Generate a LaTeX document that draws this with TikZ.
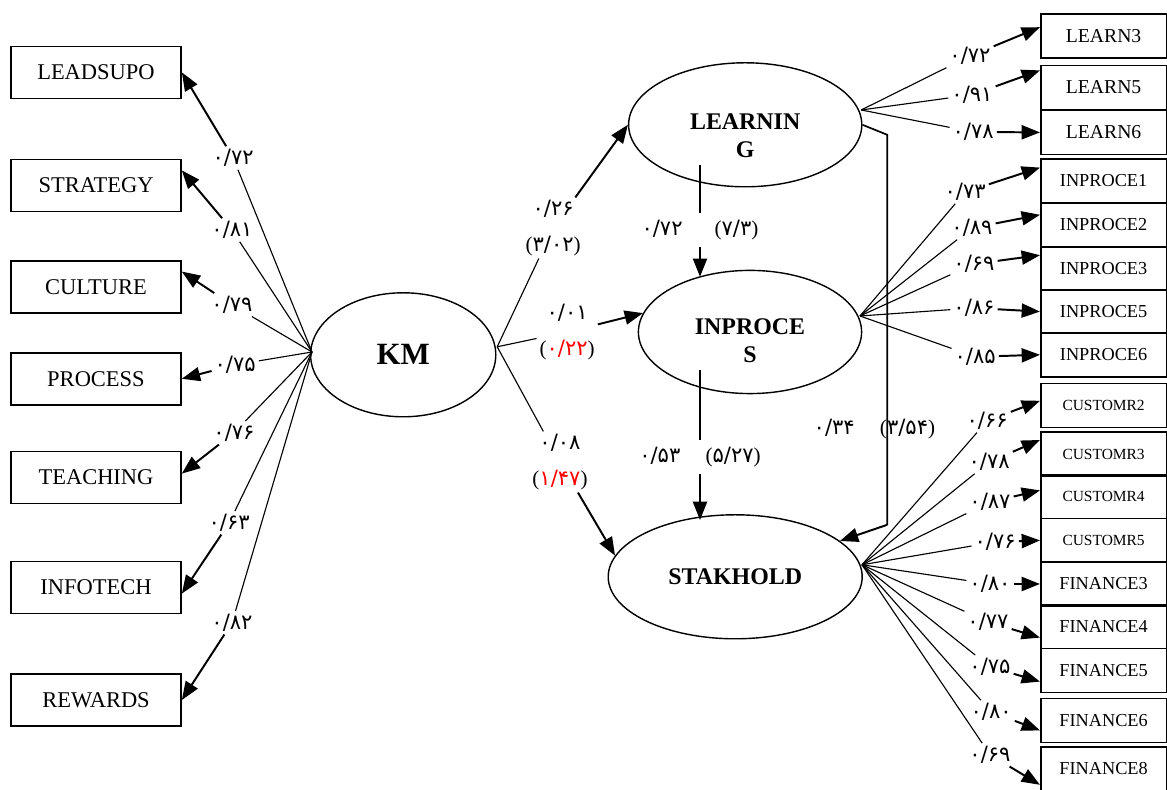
\documentclass[tikz,border=0pt]{standalone}
\usepackage{fontspec}
\setmainfont{Liberation Serif}
\newfontfamily\fanum{DejaVu Sans}
\newcommand{\pv}[1]{{\fanum #1}}
\usetikzlibrary{shapes.geometric,arrows.meta}

\begin{document}
\begin{tikzpicture}
\tikzstyle{factor}=[draw,ellipse,line width=1pt,inner sep=0pt,align=center,font=\bfseries\fontsize{17}{20}\selectfont]
\tikzstyle{leftbox}=[draw,line width=1.2pt,minimum width=4.25cm,minimum height=1.3cm,font=\fontsize{16}{18}\selectfont]
\tikzstyle{rightbox}=[draw,line width=1.2pt,minimum width=3.14cm,minimum height=1.1cm,font=\fontsize{13}{15}\selectfont]
\tikzstyle{coef}=[inner sep=2pt,align=center,font=\fontsize{15}{25}\selectfont]
\tikzstyle{link}=[line width=0.8pt]
\tikzstyle{load}=[line width=1.4pt,-{Triangle[length=13pt,width=10pt]}]
\useasboundingbox (0,0) rectangle (29.175,19.75);
\node [leftbox] (leadsupo) at (2.40,17.94) {LEADSUPO};
\node [leftbox] (strategy) at (2.40,15.11) {STRATEGY};
\node [leftbox] (culture) at (2.40,12.58) {CULTURE};
\node [leftbox] (process) at (2.40,10.28) {PROCESS};
\node [leftbox] (teaching) at (2.40,7.81) {TEACHING};
\node [leftbox] (infotech) at (2.40,5.06) {INFOTECH};
\node [leftbox] (rewards) at (2.40,2.25) {REWARDS};
\node [factor,minimum width=4.63cm,minimum height=3.10cm,font=\bfseries\fontsize{22}{24}\selectfont] (km) at (10.08,10.88) {KM};
\node [factor,minimum width=5.83cm,minimum height=3.10cm] (learning) at (18.63,16.63) {\rule{0pt}{0.95cm}LEARNIN\\G};
\node [factor,minimum width=5.58cm,minimum height=3.08cm] (inproces) at (18.75,11.45) {\rule{0pt}{0.85cm}INPROCE\\S};
\node [factor,minimum width=6.35cm,minimum height=3.10cm] (stakhold) at (18.38,5.33) {STAKHOLD};
\node [rightbox,font=\fontsize{14}{16}\selectfont] (learn3) at (27.59,18.85) {LEARN3};
\node [rightbox,font=\fontsize{14}{16}\selectfont] (learn5) at (27.59,17.56) {LEARN5};
\node [rightbox,font=\fontsize{14}{16}\selectfont] (learn6) at (27.59,16.44) {LEARN6};
\node [rightbox] (inproce1) at (27.59,15.23) {INPROCE1};
\node [rightbox] (inproce2) at (27.59,14.13) {INPROCE2};
\node [rightbox] (inproce3) at (27.59,13.04) {INPROCE3};
\node [rightbox] (inproce5) at (27.59,11.96) {INPROCE5};
\node [rightbox] (inproce6) at (27.59,10.88) {INPROCE6};
\node [rightbox,font=\fontsize{11}{13}\selectfont] (customr2) at (27.59,9.61) {CUSTOMR2};
\node [rightbox,font=\fontsize{11}{13}\selectfont] (customr3) at (27.59,8.40) {CUSTOMR3};
\node [rightbox,font=\fontsize{11}{13}\selectfont] (customr4) at (27.59,7.34) {CUSTOMR4};
\node [rightbox,font=\fontsize{11}{13}\selectfont] (customr5) at (27.59,6.24) {CUSTOMR5};
\node [rightbox] (finance3) at (27.59,5.15) {FINANCE3};
\node [rightbox] (finance4) at (27.59,4.09) {FINANCE4};
\node [rightbox] (finance5) at (27.59,2.99) {FINANCE5};
\node [rightbox] (finance6) at (27.59,1.74) {FINANCE6};
\node [rightbox] (finance8) at (27.59,0.53) {FINANCE8};
\coordinate (kmw) at (7.80,10.95);
\coordinate (kme) at (12.43,11.08);
\coordinate (lrne) at (21.53,17.00);
\coordinate (inpe) at (21.50,11.85);
\coordinate (stke) at (21.55,5.63);
\coordinate (lrnb) at (17.50,15.63);
\coordinate (inpt) at (17.50,12.83);
\coordinate (inpb) at (17.50,10.50);
\coordinate (stkt) at (17.50,6.75);
\coordinate (bendt) at (22.18,16.38);
\coordinate (bendb) at (22.18,6.63);
\node [coef] (c-leadsupo) at (5.83,15.80) {\pv{۰/۷۲}};
\node [coef] (c-strategy) at (5.80,14.00) {\pv{۰/۸۱}};
\node [coef] (c-culture) at (5.80,12.13) {\pv{۰/۷۹}};
\node [coef] (c-process) at (5.88,10.63) {\pv{۰/۷۵}};
\node [coef] (c-teaching) at (5.85,8.93) {\pv{۰/۷۶}};
\node [coef] (c-infotech) at (5.73,6.68) {\pv{۰/۶۳}};
\node [coef] (c-rewards) at (5.80,4.18) {\pv{۰/۸۲}};
\node [coef] (c-learning) at (13.83,14.05) {\pv{۰/۲۶}\\(\pv{۳/۰۲})};
\node [coef] (c-inproces) at (14.18,11.45) {\pv{۰/۰۱}\\(\textcolor{red}{\pv{۰/۲۲}})};
\node [coef] (c-stakhold) at (14.00,8.20) {\pv{۰/۰۸}\\(\textcolor{red}{\pv{۱/۴۷}})};
\node [coef,inner ysep=5pt] (c-lrn-inp) at (17.50,14.00) {\pv{۰/۷۲}\hspace{0.8cm}(\pv{۷/۳})};
\node [coef,inner ysep=5pt] (c-inp-stk) at (17.50,8.33) {\pv{۰/۵۳}\hspace{0.63cm}(\pv{۵/۲۷})};
\node [coef] (c-lrn-stk) at (21.86,9.03) {\pv{۰/۳۴}\hspace{0.63cm}(\pv{۳/۵۴})};
\node [coef] (c-learn3) at (24.25,18.35) {\pv{۰/۷۲}};
\node [coef] (c-learn5) at (24.30,17.38) {\pv{۰/۹۱}};
\node [coef] (c-learn6) at (24.33,16.45) {\pv{۰/۷۸}};
\node [coef] (c-inproce1) at (24.13,14.95) {\pv{۰/۷۳}};
\node [coef] (c-inproce2) at (24.30,14.05) {\pv{۰/۸۹}};
\node [coef] (c-inproce3) at (24.35,13.15) {\pv{۰/۶۹}};
\node [coef] (c-inproce5) at (24.35,12.05) {\pv{۰/۸۶}};
\node [coef] (c-inproce6) at (24.38,10.83) {\pv{۰/۸۵}};
\node [coef] (c-customr2) at (24.68,9.23) {\pv{۰/۶۶}};
\node [coef] (c-customr3) at (24.73,8.20) {\pv{۰/۷۸}};
\node [coef] (c-customr4) at (24.75,7.20) {\pv{۰/۸۷}};
\node [coef] (c-customr5) at (24.88,6.20) {\pv{۰/۷۶}};
\node [coef] (c-finance3) at (24.75,5.15) {\pv{۰/۸۰}};
\node [coef] (c-finance4) at (24.70,4.20) {\pv{۰/۷۷}};
\node [coef] (c-finance5) at (24.75,3.08) {\pv{۰/۷۵}};
\node [coef] (c-finance6) at (24.78,1.95) {\pv{۰/۸۰}};
\node [coef] (c-finance8) at (24.75,0.88) {\pv{۰/۶۹}};
\draw [link] (kmw) -- (c-leadsupo);
\draw [link] (kmw) -- (c-strategy);
\draw [link] (kmw) -- (c-culture);
\draw [link] (kmw) -- (c-process);
\draw [link] (kmw) -- (c-teaching);
\draw [link] (kmw) -- (c-infotech);
\draw [link] (kmw) -- (c-rewards);
\draw [load] (c-leadsupo) -- (leadsupo.east);
\draw [load] (c-strategy) -- ([yshift=0.38cm]strategy.east);
\draw [load] (c-culture) -- ([yshift=0.38cm]culture.east);
\draw [load] (c-process) -- (process.east);
\draw [load] (c-teaching) -- ([yshift=0.1cm]teaching.east);
\draw [load] (c-infotech) -- ([yshift=-0.15cm]infotech.east);
\draw [load] (c-rewards) -- (rewards.east);
\draw [link] (kme) -- (c-learning);
\draw [load] (c-learning) -- (learning.west);
\draw [link] (kme) -- (c-inproces);
\draw [load] (c-inproces) -- (inproces.170);
\draw [link] (kme) -- (c-stakhold);
\draw [load] (c-stakhold) -- (stakhold.170);
\draw [link] (lrnb) -- (c-lrn-inp);
\draw [load] (c-lrn-inp) -- (inpt);
\draw [link] (inpb) -- (c-inp-stk);
\draw [load] (c-inp-stk) -- (stkt);
\draw [line width=1.2pt] (learning.east) -- (bendt) -- (bendb);
\draw [load] (bendb) -- (stakhold);
\draw [link] (lrne) -- (c-learn3);
\draw [link] (lrne) -- (c-learn5);
\draw [link] (lrne) -- (c-learn6);
\draw [load] (c-learn3) -- ([yshift=0.22cm]learn3.west);
\draw [load] (c-learn5) -- ([yshift=0.43cm]learn5.west);
\draw [load] (c-learn6) -- (learn6.west);
\draw [link] (inpe) -- (c-inproce1);
\draw [link] (inpe) -- (c-inproce2);
\draw [link] (inpe) -- (c-inproce3);
\draw [link] (inpe) -- (c-inproce5);
\draw [link] (inpe) -- (c-inproce6);
\draw [load] (c-inproce1) -- ([yshift=0.33cm]inproce1.west);
\draw [load] (c-inproce2) -- ([yshift=0.25cm]inproce2.west);
\draw [load] (c-inproce3) -- ([yshift=0.33cm]inproce3.west);
\draw [load] (c-inproce5) -- (inproce5.west);
\draw [load] (c-inproce6) -- (inproce6.west);
\draw [link] (stke) -- (c-customr2);
\draw [link] (stke) -- (c-customr3);
\draw [link] (stke) -- (c-customr4);
\draw [link] (stke) -- (c-customr5);
\draw [link] (stke) -- (c-finance3);
\draw [link] (stke) -- (c-finance4);
\draw [link] (stke) -- (c-finance5);
\draw [link] (stke) -- (c-finance6);
\draw [link] (stke) -- (c-finance8);
\draw [load] (c-customr2) -- ([yshift=0.12cm]customr2.west);
\draw [load] (c-customr3) -- ([yshift=0.35cm]customr3.west);
\draw [load] (c-customr4) -- ([yshift=0.15cm]customr4.west);
\draw [load] (c-customr5) -- (customr5.west);
\draw [load] (c-finance3) -- (finance3.west);
\draw [load] (c-finance4) -- ([yshift=-0.28cm]finance4.west);
\draw [load] (c-finance5) -- ([yshift=-0.28cm]finance5.west);
\draw [load] (c-finance6) -- ([yshift=-0.25cm]finance6.west);
\draw [load] (c-finance8) -- ([yshift=-0.40cm]finance8.west);
\end{tikzpicture}
\end{document}
